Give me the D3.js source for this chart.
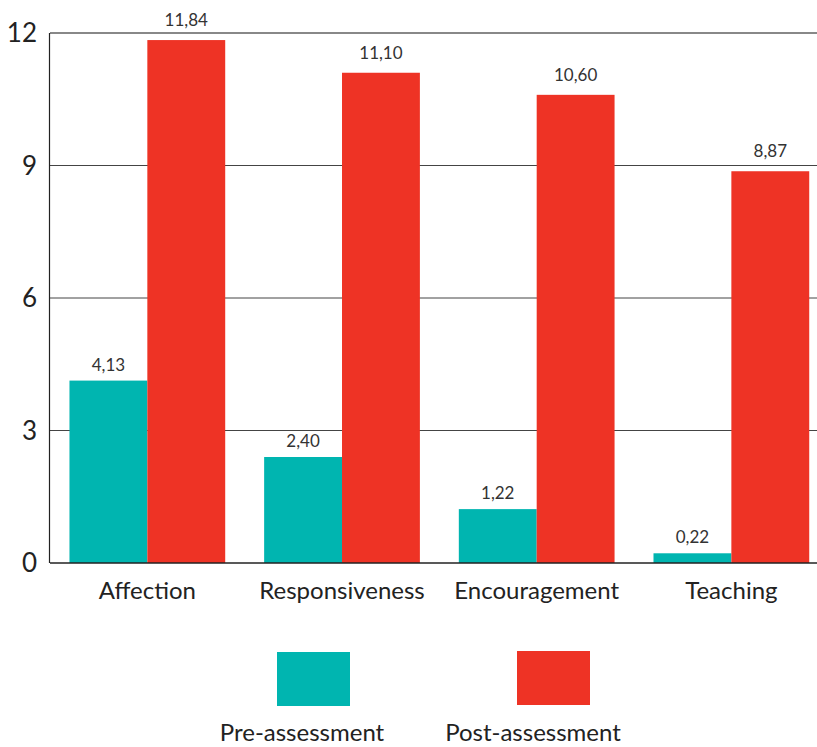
<!DOCTYPE html>
<html>
<head>
<meta charset="utf-8">
<script src="https://cdn.jsdelivr.net/npm/d3@7"></script>
<style>
  html, body { margin: 0; padding: 0; background: #fff; }
  svg { display: block; font-family: Lato, "Noto Sans", sans-serif; }
</style>
</head>
<body>
<svg id="chart" width="817" height="747"></svg>
<script>
// Parenting behaviour scores before and after the programme
const categories = ["Affection", "Responsiveness", "Encouragement", "Teaching"];
const seriesNames = ["Pre-assessment", "Post-assessment"];
const preValues = [4.13, 2.40, 1.22, 0.22];
const postValues = [11.84, 11.10, 10.60, 8.87];
const yTicks = [0, 3, 6, 9, 12];
const seriesColors = ["#00B5B0", "#EE3325"];

const svg = d3.select("#chart");
const plotLeft = 50, plotRight = 817, plotTop = 33, plotBottom = 563;

const x = d3.scaleBand()
  .domain(categories)
  .range([plotLeft, 828.7])
  .paddingInner(0.2)
  .paddingOuter(0.1);

const xSeries = d3.scaleBand()
  .domain(seriesNames)
  .range([0, x.bandwidth()]);

const y = d3.scaleLinear().domain([0, 12]).range([plotBottom, plotTop]);

const fmt = v => d3.format(".2f")(v).replace(".", ",");

// horizontal grid lines
svg.append("g")
  .selectAll("line")
  .data(yTicks.filter(t => t > 0))
  .join("line")
  .attr("x1", plotLeft).attr("x2", plotRight)
  .attr("y1", d => y(d)).attr("y2", d => y(d))
  .attr("stroke", d => d === 12 ? "#888" : "#444")
  .attr("stroke-width", d => d === 12 ? 2 : 1);

// y tick labels
svg.append("g")
  .selectAll("text")
  .data(yTicks)
  .join("text")
  .attr("x", 37)
  .attr("y", d => y(d))
  .attr("dy", "0.36em")
  .attr("text-anchor", "end")
  .attr("font-size", 26)
  .attr("fill", "#222")
  .text(d => d);

// bars
const rows = categories.map((c, i) => ({
  category: c,
  values: [
    { series: seriesNames[0], value: preValues[i], idx: 0 },
    { series: seriesNames[1], value: postValues[i], idx: 1 }
  ]
}));

const groups = svg.append("g")
  .selectAll("g")
  .data(rows)
  .join("g")
  .attr("transform", d => `translate(${x(d.category)},0)`);

groups.selectAll("rect")
  .data(d => d.values)
  .join("rect")
  .attr("x", d => xSeries(d.series))
  .attr("width", xSeries.bandwidth())
  .attr("y", d => y(d.value))
  .attr("height", d => y(0) - y(d.value))
  .attr("fill", d => seriesColors[d.idx]);

groups.selectAll("text")
  .data(d => d.values)
  .join("text")
  .attr("x", d => xSeries(d.series) + xSeries.bandwidth() / 2)
  .attr("y", d => y(d.value) - (d.idx === 0 ? 10 : 14))
  .attr("text-anchor", "middle")
  .attr("font-size", 17)
  .attr("fill", "#333")
  .text(d => fmt(d.value));

// axes lines
svg.append("line")
  .attr("x1", plotLeft).attr("x2", plotRight)
  .attr("y1", plotBottom).attr("y2", plotBottom)
  .attr("stroke", "#222").attr("stroke-width", 1.5);
svg.append("line")
  .attr("x1", plotLeft - 0.5).attr("x2", plotLeft - 0.5)
  .attr("y1", plotTop).attr("y2", plotBottom)
  .attr("stroke", "#222").attr("stroke-width", 1.2);

// category labels
svg.append("g")
  .selectAll("text")
  .data(categories)
  .join("text")
  .attr("x", d => x(d) + x.bandwidth() / 2)
  .attr("y", 599)
  .attr("text-anchor", "middle")
  .attr("font-size", 24)
  .attr("fill", "#222")
  .text(d => d);

// legend
const legendX = [277, 517];
const legendLabelX = [302, 533];
const legend = svg.append("g")
  .selectAll("g")
  .data(seriesNames)
  .join("g");
legend.append("rect")
  .attr("x", (d, i) => legendX[i])
  .attr("y", (d, i) => i === 0 ? 652 : 651)
  .attr("width", 73).attr("height", 54)
  .attr("fill", (d, i) => seriesColors[i]);
legend.append("text")
  .attr("x", (d, i) => legendLabelX[i])
  .attr("y", 741)
  .attr("text-anchor", "middle")
  .attr("font-size", 24)
  .attr("fill", "#222")
  .text(d => d);
</script>
</body>
</html>
